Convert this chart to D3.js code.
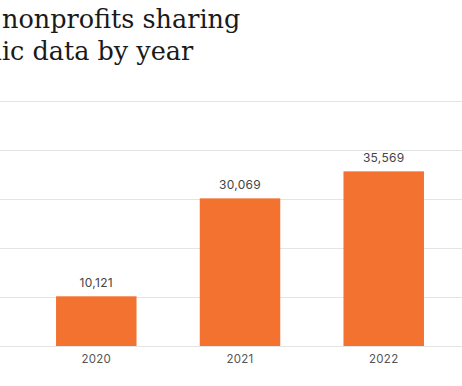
<!DOCTYPE html>
<html>
<head>
<meta charset="utf-8">
<script src="https://cdn.jsdelivr.net/npm/d3@7"></script>
<style>
  body { margin: 0; background: #fff; overflow: hidden; }
  svg { display: block; }
</style>
</head>
<body>
<div id="chart-area"></div>
<script>
// Data
const years = ["2020", "2021", "2022"];
const counts = [10121, 30069, 35569];
const yTicks = [0, 10000, 20000, 30000, 40000, 50000];
const titleLines = ["Number of nonprofits sharing", "demographic data by year"];

const W = 462, H = 386;

const svg = d3.select("#chart-area")
  .append("svg")
    .attr("width", W)
    .attr("height", H);

// Title (the left part is cut off in the source picture)
const title = svg.append("text")
  .attr("font-family", "'DejaVu Serif', serif")
  .attr("font-size", "25.5px")
  .attr("fill", "#1a1a1a");

title.selectAll("tspan")
  .data(titleLines)
  .join("tspan")
    .attr("y", (d, i) => 28 + i * 32)
    .text(d => d);

// shift so that "nonprofits" starts at x = 2
const first = title.select("tspan").node();
const prefixW = first.getSubStringLength(0, "Number of ".length);
title.selectAll("tspan").attr("x", 2 - prefixW);

// Scales
const x = d3.scaleBand()
  .domain(years)
  .range([15.8, 464.2])
  .paddingInner(0.44)
  .paddingOuter(0.28);

const y = d3.scaleLinear()
  .domain([0, 50000])
  .range([346, 100.5]);

// Gridlines
svg.append("g")
  .selectAll("line")
  .data(yTicks)
  .join("line")
    .attr("x1", -50)
    .attr("x2", W + 10)
    .attr("y1", d => Math.round(y(d)) + 0.5)
    .attr("y2", d => Math.round(y(d)) + 0.5)
    .attr("stroke", "#e4e4e4")
    .attr("stroke-width", 1);

// Bars
svg.append("g")
  .selectAll("rect")
  .data(counts)
  .join("rect")
    .attr("x", (d, i) => x(years[i]))
    .attr("y", d => y(d))
    .attr("width", x.bandwidth())
    .attr("height", d => y(0) - y(d))
    .attr("fill", "#f37230");

// Value labels
svg.append("g")
  .selectAll("text")
  .data(counts)
  .join("text")
    .attr("x", (d, i) => x(years[i]) + x.bandwidth() / 2)
    .attr("y", d => y(d) - 9)
    .attr("text-anchor", "middle")
    .attr("font-family", "Inter, Roboto, sans-serif")
    .attr("font-size", "12px")
    .attr("letter-spacing", "0.3px")
    .attr("fill", "#444")
    .text(d => d3.format(",")(d));

// X axis labels
const xAxis = svg.append("g")
  .attr("transform", "translate(0," + y(0) + ")")
  .call(d3.axisBottom(x).tickSize(0).tickPadding(9));
xAxis.select(".domain").remove();
xAxis.selectAll("text")
  .attr("font-family", "Inter, Roboto, sans-serif")
  .attr("font-size", "11.5px")
  .attr("letter-spacing", "0.3px")
  .attr("fill", "#555");
</script>
</body>
</html>
